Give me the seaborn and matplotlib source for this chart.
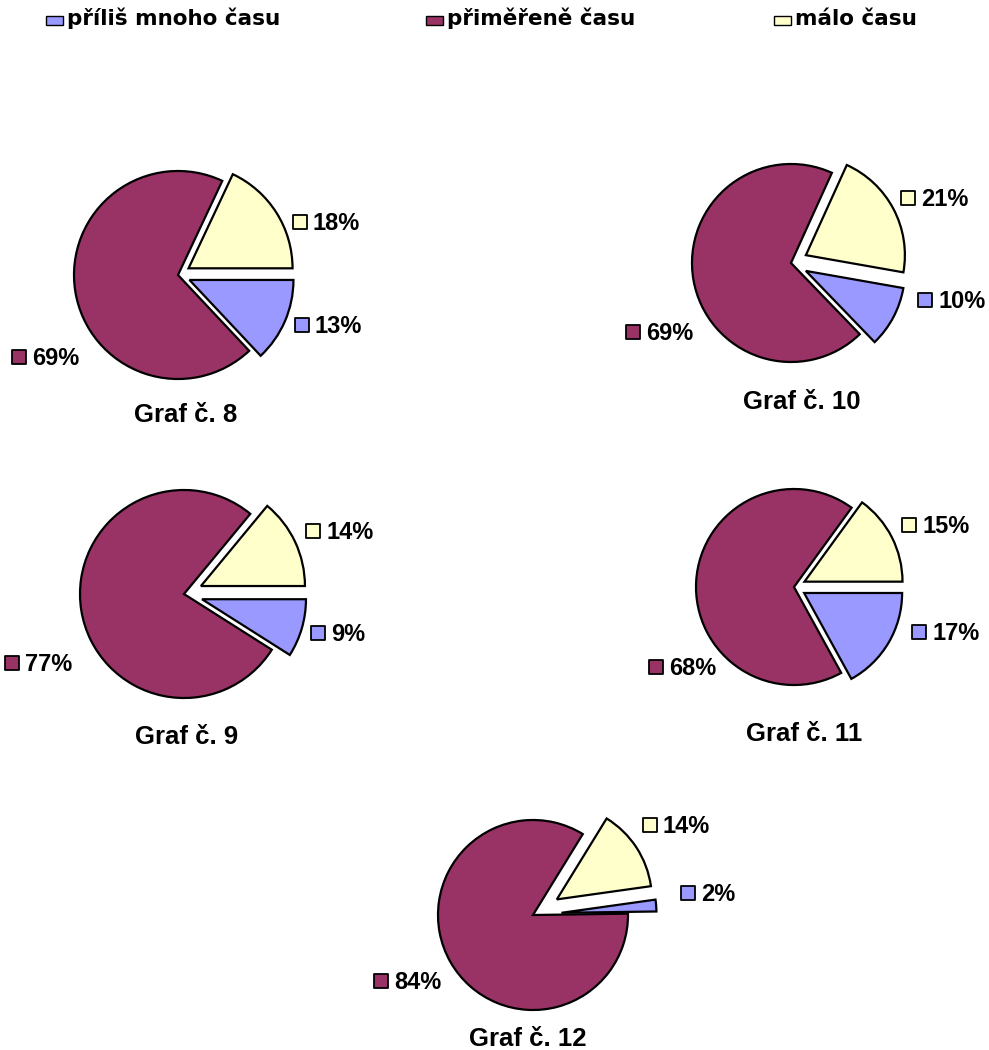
import matplotlib as mpl
import matplotlib.pyplot as plt
import seaborn as sns
from matplotlib.patches import Rectangle

sns.set_theme(style="white")
mpl.rcParams["font.family"] = ["Liberation Sans", "DejaVu Sans"]

W, H = 989, 1050

# data (percent)
CHARTS = ["Graf č. 8", "Graf č. 10", "Graf č. 9", "Graf č. 11", "Graf č. 12"]
MNOHO = [13, 10, 9, 17, 2]
PRIMERENE = [69, 69, 77, 68, 84]
MALO = [18, 21, 14, 15, 14]

CATEGORIES = ["příliš mnoho času", "přiměřeně času", "málo času"]
COLORS = ["#9999FF", "#993366", "#FFFFCC"]

# layout in pixels (x right, y down)
CENTERS = [(178, 275), (791, 263), (184, 594), (794, 587), (533, 915)]
RADII = [104, 99, 104, 98, 95]
START = [0, -10, 0, 0, 8]
EXPLODE = [0.12, 0.17, 0.18, 0.12, 0.30]   # fraction of radius
# square positions for labels: [mnoho, primerene, malo]
LABEL_POS = [
    [(302, 325), (19, 357), (300, 222)],
    [(925, 300), (633, 332), (908, 198)],
    [(318, 633), (12, 663), (313, 531)],
    [(919, 632), (656, 667), (909, 525)],
    [(688, 893), (381, 981), (650, 825)],
]
TITLE_POS = [(186, 413), (802, 400), (187, 735), (804, 732), (528, 1037)]
LEGEND_X = [46, 426, 774]


def y(py):
    return H - py


fig = plt.figure(figsize=(W / 100, H / 100), dpi=100)
ax = fig.add_axes([0, 0, 1, 1])

for i, name in enumerate(CHARTS):
    vals = [MNOHO[i], PRIMERENE[i], MALO[i]]
    cx, cy = CENTERS[i]
    r = RADII[i]
    ex = EXPLODE[i] * r
    ax.pie(
        vals,
        colors=COLORS,
        explode=[ex, 0, ex],
        startangle=START[i],
        counterclock=False,
        radius=r,
        center=(cx, y(cy)),
        wedgeprops=dict(edgecolor="black", linewidth=1.6),
    )
    for v, col, (sx, sy) in zip(vals, COLORS, LABEL_POS[i]):
        ax.scatter([sx], [y(sy)], marker="s", s=100, color=col,
                   edgecolor="black", linewidth=1.3, zorder=5)
        ax.text(sx + 13, y(sy + 8), f"{v}%", fontsize=17, fontweight="bold",
                ha="left", va="baseline", color="black")
    tx, ty = TITLE_POS[i]
    ax.text(tx, y(ty + 9), name, fontsize=18.5, fontweight="bold",
            ha="center", va="baseline", color="black")

# legend strip at the top
for lx, col, lab in zip(LEGEND_X, COLORS, CATEGORIES):
    ax.add_patch(Rectangle((lx, y(25)), 17, 9, facecolor=col,
                           edgecolor="black", linewidth=1.0))
    ax.text(lx + 21, y(25), lab, fontsize=15.5, fontweight="bold",
            family="DejaVu Sans", ha="left", va="baseline", color="black")

ax.set_xlim(0, W)
ax.set_ylim(0, H)
ax.set_aspect("equal")
ax.axis("off")

fig.savefig("out.png", dpi=100)
